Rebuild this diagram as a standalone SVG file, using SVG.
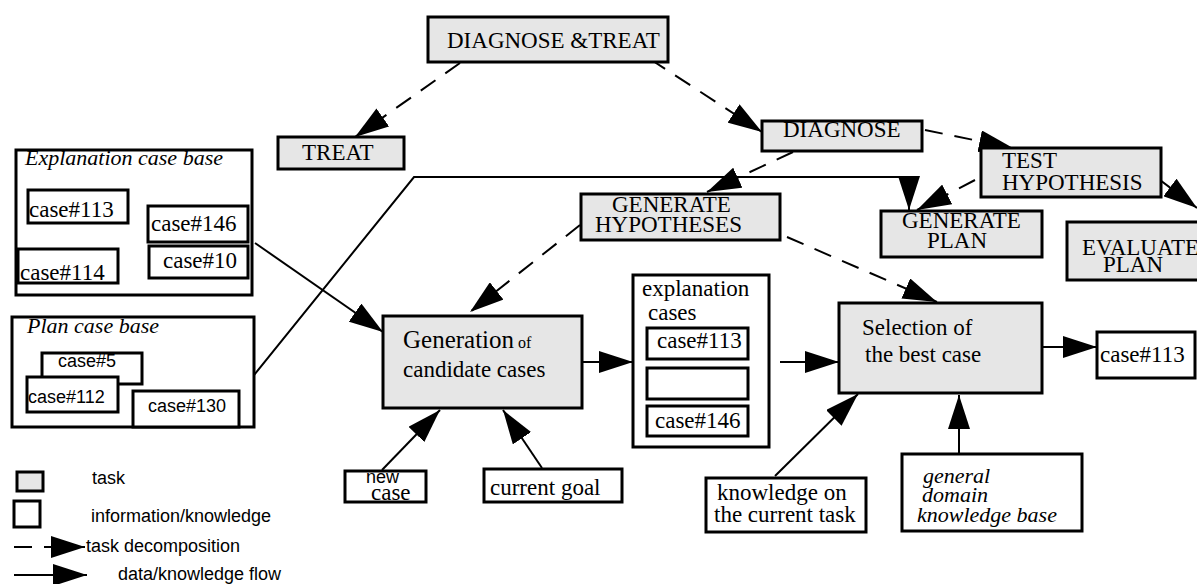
<svg xmlns="http://www.w3.org/2000/svg" width="1197" height="584" viewBox="0 0 1197 584">
<style>
.task{fill:#e6e6e6;stroke:#000;stroke-width:3}
.info{fill:#fff;stroke:#000;stroke-width:3}
.s{font-family:"Liberation Serif","Times New Roman",serif;font-size:23px;fill:#000}
.si{font-family:"Liberation Serif","Times New Roman",serif;font-size:22px;font-style:italic;fill:#000}
.a{font-family:"Liberation Sans",Arial,sans-serif;font-size:18px;fill:#000}
.flow{fill:none;stroke:#000;stroke-width:2;marker-end:url(#ah)}
.dec{fill:none;stroke:#000;stroke-width:2;stroke-dasharray:18 12;marker-end:url(#ah)}
</style>
<defs>
<marker id="ah" markerUnits="userSpaceOnUse" markerWidth="36" markerHeight="22" refX="34" refY="11" orient="auto" viewBox="0 0 36 22">
<path d="M0,0 L34,11 L0,22 z" fill="#000"/>
</marker>
</defs>
<rect width="1197" height="584" fill="#fff"/>

<g id="connectors">
<path class="dec" d="M460,63 L355,137"/>
<path class="dec" d="M650,59 L762,132"/>
<path class="dec" d="M925,130 L1013,148"/>
<path class="dec" d="M793,152 L707,192"/>
<path class="dec" d="M975,180 L917,210"/>
<path class="dec" d="M1160,180 L1197,208"/>
<path class="dec" d="M580,225 L470,312"/>
<path class="dec" d="M787,237 L937,302"/>
<path class="flow" d="M255,243 L383,332"/>
<path class="flow" d="M254,375 L414,177 L909,177 L909,210"/>
<path class="flow" d="M582,362 L633,362"/>
<path class="flow" d="M780,362 L839,362"/>
<path class="flow" d="M1042,347 L1097,347"/>
<path class="flow" d="M775,476 L858,394"/>
<path class="flow" d="M959,454 L959,395"/>
<path class="flow" d="M382,470 L440,410"/>
<path class="flow" d="M542,468 L503,410"/>
</g>

<g id="n-diagnose-treat">
<rect class="task" x="428" y="17" width="240" height="45"/>
<text class="s" x="447" y="48">DIAGNOSE &amp;TREAT</text>
</g>
<g id="n-treat">
<rect class="task" x="278" y="137" width="126" height="32"/>
<text class="s" x="302" y="160">TREAT</text>
</g>
<g id="n-diagnose">
<rect class="task" x="762" y="121" width="160" height="30"/>
<text class="s" x="783" y="137">DIAGNOSE</text>
</g>
<g id="n-test-hypothesis">
<rect class="task" x="981" y="148" width="180" height="49"/>
<text class="s" x="1002" y="168">TEST</text>
<text class="s" x="1002" y="190">HYPOTHESIS</text>
</g>
<g id="n-generate-hypotheses">
<rect class="task" x="581" y="194" width="199" height="46"/>
<text class="s" x="612" y="212">GENERATE</text>
<text class="s" x="595" y="232">HYPOTHESES</text>
</g>
<g id="n-generate-plan">
<rect class="task" x="881" y="211" width="161" height="46"/>
<text class="s" x="902" y="228">GENERATE</text>
<text class="s" x="927" y="248">PLAN</text>
</g>
<g id="n-evaluate-plan">
<rect class="task" x="1067" y="222" width="140" height="58"/>
<text class="s" x="1082" y="255">EVALUATE</text>
<text class="s" x="1103" y="272">PLAN</text>
</g>

<g id="n-explanation-case-base">
<rect class="info" x="16" y="150" width="236" height="145"/>
<text class="si" x="25" y="165">Explanation case base</text>
<rect class="info" x="28" y="190" width="100" height="33"/>
<text class="s" x="29" y="217">case#113</text>
<rect class="info" x="148" y="206" width="100" height="36"/>
<text class="s" x="151" y="231">case#146</text>
<rect class="info" x="149" y="246" width="99" height="32"/>
<text class="s" x="163" y="268">case#10</text>
<rect class="info" x="18" y="249" width="100" height="34"/>
<text class="s" x="20" y="280">case#114</text>
</g>

<g id="n-plan-case-base">
<rect class="info" x="12" y="317" width="242" height="110"/>
<text class="si" x="27" y="333">Plan case base</text>
<rect class="info" x="42" y="353" width="100" height="31"/>
<text class="a" x="58" y="367">case#5</text>
<rect class="info" x="27" y="377" width="91" height="35"/>
<text class="a" x="28" y="403">case#112</text>
<rect class="info" x="133" y="391" width="106" height="36"/>
<text class="a" x="148" y="412">case#130</text>
</g>

<g id="n-generation">
<rect class="task" x="383" y="316" width="199" height="92"/>
<text class="s" x="403" y="348"><tspan font-size="25">Generation</tspan><tspan font-size="16"> of</tspan></text>
<text class="s" x="403" y="377">candidate cases</text>
</g>

<g id="n-explanation-cases">
<rect class="info" x="633" y="275" width="136" height="172"/>
<text class="s" x="642" y="296">explanation</text>
<text class="s" x="648" y="320">cases</text>
<rect class="info" x="647" y="328" width="101" height="31"/>
<text class="s" x="657" y="348">case#113</text>
<rect class="info" x="647" y="368" width="101" height="31"/>
<rect class="info" x="647" y="406" width="101" height="30"/>
<text class="s" x="655" y="428">case#146</text>
</g>

<g id="n-selection">
<rect class="task" x="839" y="303" width="203" height="90"/>
<text class="s" x="862" y="335">Selection of</text>
<text class="s" x="865" y="362">the best case</text>
</g>

<g id="n-case113-out">
<rect class="info" x="1097" y="332" width="98" height="46"/>
<text class="s" x="1100" y="362">case#113</text>
</g>

<g id="n-new-case">
<rect class="info" x="345" y="471" width="81" height="31"/>
<text class="a" x="366" y="483" font-size="15">new</text>
<text class="s" x="371" y="500" font-size="20">case</text>
</g>

<g id="n-current-goal">
<rect class="info" x="484" y="469" width="138" height="33"/>
<text class="s" x="490" y="495">current goal</text>
</g>

<g id="n-knowledge-task">
<rect class="info" x="706" y="478" width="160" height="54"/>
<text class="s" x="717" y="500">knowledge on</text>
<text class="s" x="714" y="522">the current task</text>
</g>

<g id="n-general-domain">
<rect class="info" x="902" y="454" width="180" height="77"/>
<text class="si" x="923" y="483">general</text>
<text class="si" x="922" y="502">domain</text>
<text class="si" x="917" y="522">knowledge base</text>
</g>

<g id="legend">
<rect class="task" x="17" y="472" width="26" height="19"/>
<text class="a" x="92" y="484">task</text>
<rect class="info" x="14" y="501" width="26" height="26"/>
<text class="a" x="91" y="522">information/knowledge</text>
<path class="dec" d="M14,547 L85,547" stroke-dasharray="12 10"/>
<text class="a" x="86" y="552">task decomposition</text>
<path class="flow" d="M14,575 L87,575"/>
<text class="a" x="118" y="580">data/knowledge flow</text>
</g>
</svg>
